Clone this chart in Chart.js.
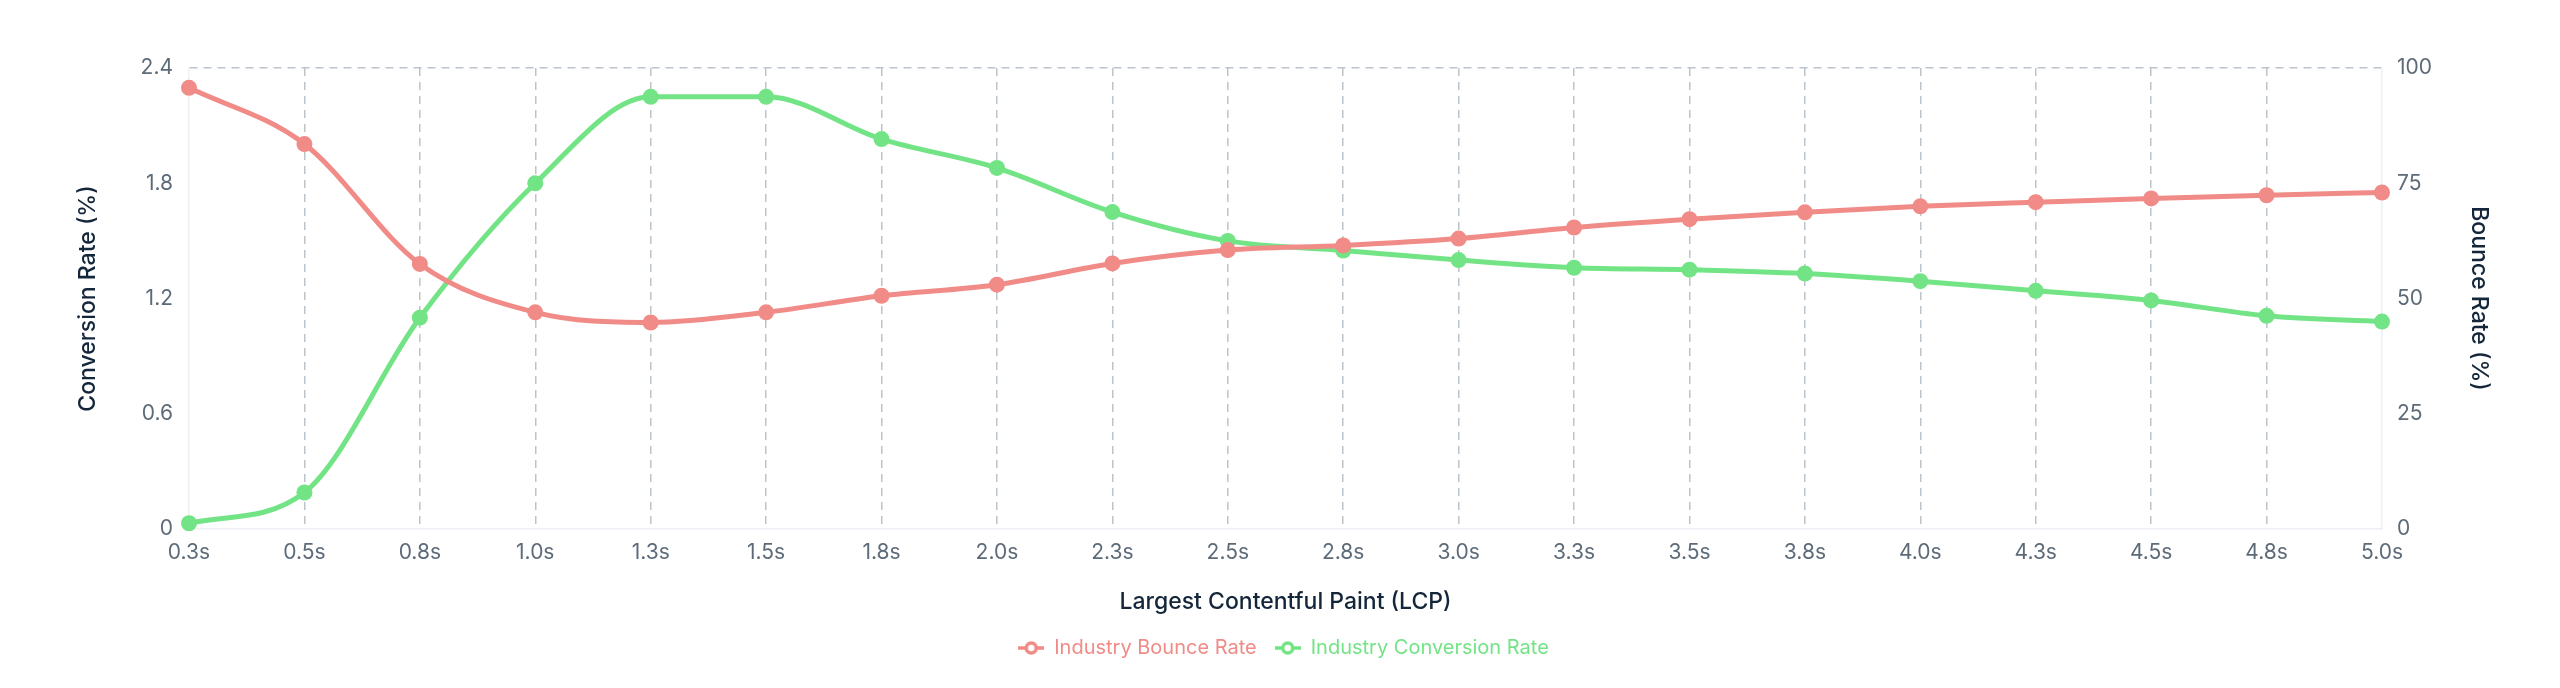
<!DOCTYPE html>
<html>
<head>
<meta charset="utf-8">
<title>LCP vs Bounce / Conversion</title>
<script src="https://cdn.jsdelivr.net/npm/chart.js@4.4.1/dist/chart.umd.min.js"></script>
<style>
  html, body { margin: 0; padding: 0; background: #ffffff; }
  #wrap { width: 2560px; height: 688px; }
</style>
</head>
<body>
<div id="wrap"><canvas id="lcpChart" width="2560" height="688"></canvas></div>
<script>
// Données
const lcpLabels = ['0.3s', '0.5s', '0.8s', '1.0s', '1.3s', '1.5s', '1.8s', '2.0s', '2.3s', '2.5s',
  '2.8s', '3.0s', '3.3s', '3.5s', '3.8s', '4.0s', '4.3s', '4.5s', '4.8s', '5.0s'];
const bounceRate = [95.7, 83.5, 57.5, 47, 44.8, 47, 50.6, 53, 57.6, 60.5,
  61.5, 63, 65.4, 67.2, 68.7, 70, 70.9, 71.7, 72.4, 73];
const conversionRate = [0.03, 0.19, 1.1, 1.8, 2.25, 2.25, 2.03, 1.88, 1.65, 1.5,
  1.45, 1.4, 1.36, 1.35, 1.33, 1.29, 1.24, 1.19, 1.11, 1.08];
const leftTicks = [0, 0.6, 1.2, 1.8, 2.4];
const rightTicks = [0, 25, 50, 75, 100];

const RED = '#f08b87';
const GREEN = '#73e486';
const GRID = '#bcc4cc';
const FAINT = '#eef0f5';
const TICK = '#5d6b79';
const TITLE = '#14263a';
const FONT = 'Inter, "Noto Sans", sans-serif';

// Petit marqueur de légende : trait + cercle creux
function legendMarker(color) {
  const c = document.createElement('canvas');
  c.width = 26;
  c.height = 16;
  const g = c.getContext('2d');
  g.strokeStyle = color;
  g.lineWidth = 3.5;
  g.beginPath();
  g.moveTo(0, 8);
  g.lineTo(26, 8);
  g.stroke();
  g.fillStyle = '#ffffff';
  g.beginPath();
  g.arc(13, 8, 5, 0, Math.PI * 2);
  g.fill();
  g.stroke();
  return c;
}

const ctx = document.getElementById('lcpChart').getContext('2d');
const lcpChart = new Chart(ctx, {
  type: 'line',
  data: {
    labels: lcpLabels,
    datasets: [
      {
        label: 'Industry Bounce Rate',
        data: bounceRate,
        yAxisID: 'y1',
        borderColor: RED,
        backgroundColor: RED,
        pointBackgroundColor: RED,
        pointBorderColor: RED,
        borderWidth: 5,
        pointRadius: 8,
        pointBorderWidth: 0,
        cubicInterpolationMode: 'monotone',
        clip: false,
      },
      {
        label: 'Industry Conversion Rate',
        data: conversionRate,
        yAxisID: 'y',
        borderColor: GREEN,
        backgroundColor: GREEN,
        pointBackgroundColor: GREEN,
        pointBorderColor: GREEN,
        borderWidth: 5,
        pointRadius: 8,
        pointBorderWidth: 0,
        cubicInterpolationMode: 'monotone',
        clip: false,
      },
    ],
  },
  options: {
    responsive: false,
    animation: false,
    events: [],
    layout: { padding: { left: 70, right: 63, top: 68, bottom: 20 } },
    plugins: {
      tooltip: { enabled: false },
      legend: {
        display: true,
        position: 'bottom',
        labels: {
          usePointStyle: true,
          pointStyleWidth: 26,
          padding: 18,
          font: { family: FONT, size: 20 },
          generateLabels: (chart) => chart.data.datasets.map((ds, i) => ({
            text: ds.label,
            fontColor: ds.borderColor,
            strokeStyle: ds.borderColor,
            fillStyle: '#ffffff',
            pointStyle: legendMarker(ds.borderColor),
            lineWidth: 0,
            hidden: false,
            datasetIndex: i,
          })),
        },
      },
    },
    scales: {
      x: {
        offset: false,
        grid: {
          drawTicks: false,
          lineWidth: 1.5,
          color: (c) => (c.index === 0 || c.index === lcpLabels.length - 1) ? 'transparent' : GRID,
        },
        border: { color: FAINT, width: 1.5, dash: [8, 6] },
        ticks: { color: TICK, padding: 11, maxRotation: 0, autoSkip: false, font: { family: FONT, size: 21 } },
        title: {
          display: true,
          text: 'Largest Contentful Paint (LCP)',
          color: TITLE,
          font: { family: FONT, size: 23, weight: 500 },
          padding: { top: 4, bottom: 4 },
        },
        afterFit: (s) => { s.height = 91; },
      },
      y: {
        position: 'left',
        min: 0,
        max: 2.4,
        afterBuildTicks: (s) => { s.ticks = leftTicks.map((v) => ({ value: v })); },
        grid: {
          drawTicks: false,
          lineWidth: 1.5,
          color: (c) => (c.tick && c.tick.value === 2.4) ? GRID : 'transparent',
        },
        border: { color: FAINT, width: 1.5, dash: [8, 6] },
        ticks: { color: TICK, padding: 16, font: { family: FONT, size: 21 } },
        title: {
          display: true,
          text: 'Conversion Rate (%)',
          color: TITLE,
          font: { family: FONT, size: 23, weight: 500 },
          padding: { top: 4, bottom: 4 },
        },
        afterFit: (s) => { s.width = 119; },
      },
      y1: {
        position: 'right',
        min: 0,
        max: 100,
        afterBuildTicks: (s) => { s.ticks = rightTicks.map((v) => ({ value: v })); },
        grid: { drawOnChartArea: false, drawTicks: false },
        border: { color: FAINT, width: 1.5 },
        ticks: { color: TICK, padding: 15, font: { family: FONT, size: 21 } },
        title: {
          display: true,
          text: 'Bounce Rate (%)',
          color: TITLE,
          font: { family: FONT, size: 23, weight: 500 },
          padding: { top: 4, bottom: 4 },
        },
        afterFit: (s) => { s.width = 115; },
      },
    },
  },
});
</script>
</body>
</html>
